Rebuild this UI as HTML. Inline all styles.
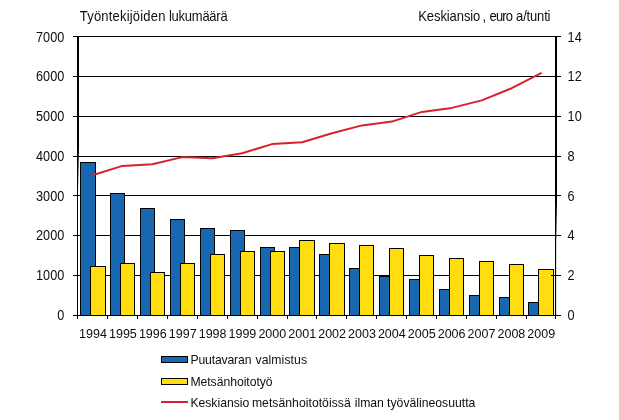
<!DOCTYPE html>
<html lang="fi"><head><meta charset="utf-8"><title>Työntekijöiden lukumäärä</title>
<style>html,body{margin:0;padding:0;background:#fff}svg{display:block}text{font-family:"Liberation Sans",Arial,sans-serif;font-size:13px;fill:#0e0e0e}</style></head><body>
<svg width="619" height="420" viewBox="0 0 619 420">
<defs><linearGradient id="fl" x1="0" y1="0" x2="0" y2="1"><stop offset="0" stop-color="#000"/><stop offset="0.72" stop-color="#000"/><stop offset="1" stop-color="#000" stop-opacity="0"/></linearGradient><linearGradient id="fr" x1="0" y1="0" x2="0" y2="1"><stop offset="0" stop-color="#000"/><stop offset="0.8" stop-color="#000"/><stop offset="1" stop-color="#000" stop-opacity="0.15"/></linearGradient></defs>
<rect width="619" height="420" fill="#fff"/>
<g shape-rendering="crispEdges">
<rect x="73" y="36" width="488" height="1" fill="#000"/>
<rect x="73" y="76" width="488" height="1" fill="#000"/>
<rect x="73" y="116" width="488" height="1" fill="#000"/>
<rect x="73" y="156" width="488" height="1" fill="#000"/>
<rect x="73" y="195" width="488" height="1" fill="#000"/>
<rect x="73" y="235" width="488" height="1" fill="#000"/>
<rect x="73" y="275" width="488" height="1" fill="#000"/>
<rect x="73" y="315" width="488" height="1" fill="#000"/>
<rect x="80.5" y="162.5" width="15" height="153" fill="#1768b1" stroke="#000" stroke-width="1"/>
<rect x="90.5" y="266.5" width="15" height="49" fill="#ffdd0f" stroke="#000" stroke-width="1"/>
<rect x="110.5" y="193.5" width="14" height="122" fill="#1768b1" stroke="#000" stroke-width="1"/>
<rect x="120.5" y="263.5" width="14" height="52" fill="#ffdd0f" stroke="#000" stroke-width="1"/>
<rect x="140.5" y="208.5" width="14" height="107" fill="#1768b1" stroke="#000" stroke-width="1"/>
<rect x="150.5" y="272.5" width="14" height="43" fill="#ffdd0f" stroke="#000" stroke-width="1"/>
<rect x="170.5" y="219.5" width="14" height="96" fill="#1768b1" stroke="#000" stroke-width="1"/>
<rect x="180.5" y="263.5" width="14" height="52" fill="#ffdd0f" stroke="#000" stroke-width="1"/>
<rect x="200.5" y="228.5" width="14" height="87" fill="#1768b1" stroke="#000" stroke-width="1"/>
<rect x="210.5" y="254.5" width="14" height="61" fill="#ffdd0f" stroke="#000" stroke-width="1"/>
<rect x="230.5" y="230.5" width="14" height="85" fill="#1768b1" stroke="#000" stroke-width="1"/>
<rect x="240.5" y="251.5" width="14" height="64" fill="#ffdd0f" stroke="#000" stroke-width="1"/>
<rect x="260.5" y="247.5" width="14" height="68" fill="#1768b1" stroke="#000" stroke-width="1"/>
<rect x="270.5" y="251.5" width="14" height="64" fill="#ffdd0f" stroke="#000" stroke-width="1"/>
<rect x="289.5" y="247.5" width="15" height="68" fill="#1768b1" stroke="#000" stroke-width="1"/>
<rect x="299.5" y="240.5" width="15" height="75" fill="#ffdd0f" stroke="#000" stroke-width="1"/>
<rect x="319.5" y="254.5" width="15" height="61" fill="#1768b1" stroke="#000" stroke-width="1"/>
<rect x="329.5" y="243.5" width="15" height="72" fill="#ffdd0f" stroke="#000" stroke-width="1"/>
<rect x="349.5" y="268.5" width="14" height="47" fill="#1768b1" stroke="#000" stroke-width="1"/>
<rect x="359.5" y="245.5" width="14" height="70" fill="#ffdd0f" stroke="#000" stroke-width="1"/>
<rect x="379.5" y="276.5" width="14" height="39" fill="#1768b1" stroke="#000" stroke-width="1"/>
<rect x="389.5" y="248.5" width="14" height="67" fill="#ffdd0f" stroke="#000" stroke-width="1"/>
<rect x="409.5" y="279.5" width="14" height="36" fill="#1768b1" stroke="#000" stroke-width="1"/>
<rect x="419.5" y="255.5" width="14" height="60" fill="#ffdd0f" stroke="#000" stroke-width="1"/>
<rect x="439.5" y="289.5" width="14" height="26" fill="#1768b1" stroke="#000" stroke-width="1"/>
<rect x="449.5" y="258.5" width="14" height="57" fill="#ffdd0f" stroke="#000" stroke-width="1"/>
<rect x="469.5" y="295.5" width="14" height="20" fill="#1768b1" stroke="#000" stroke-width="1"/>
<rect x="479.5" y="261.5" width="14" height="54" fill="#ffdd0f" stroke="#000" stroke-width="1"/>
<rect x="499.5" y="297.5" width="14" height="18" fill="#1768b1" stroke="#000" stroke-width="1"/>
<rect x="509.5" y="264.5" width="14" height="51" fill="#ffdd0f" stroke="#000" stroke-width="1"/>
<rect x="528.5" y="302.5" width="15" height="13" fill="#1768b1" stroke="#000" stroke-width="1"/>
<rect x="538.5" y="269.5" width="15" height="46" fill="#ffdd0f" stroke="#000" stroke-width="1"/>
<rect x="73" y="315" width="488" height="1" fill="#000"/>
<rect x="77" y="315" width="1" height="4" fill="#000"/>
<rect x="107" y="315" width="1" height="4" fill="#000"/>
<rect x="137" y="315" width="1" height="4" fill="#000"/>
<rect x="167" y="315" width="1" height="4" fill="#000"/>
<rect x="197" y="315" width="1" height="4" fill="#000"/>
<rect x="227" y="315" width="1" height="4" fill="#000"/>
<rect x="257" y="315" width="1" height="4" fill="#000"/>
<rect x="287" y="315" width="1" height="4" fill="#000"/>
<rect x="316" y="315" width="1" height="4" fill="#000"/>
<rect x="346" y="315" width="1" height="4" fill="#000"/>
<rect x="376" y="315" width="1" height="4" fill="#000"/>
<rect x="406" y="315" width="1" height="4" fill="#000"/>
<rect x="436" y="315" width="1" height="4" fill="#000"/>
<rect x="466" y="315" width="1" height="4" fill="#000"/>
<rect x="496" y="315" width="1" height="4" fill="#000"/>
<rect x="526" y="315" width="1" height="4" fill="#000"/>
<rect x="555" y="315" width="1" height="4" fill="#000"/>
<rect x="551" y="275" width="5" height="1" fill="#000"/>
<rect x="77" y="36" width="1" height="280" fill="#000"/>
<rect x="555" y="36" width="1" height="280" fill="#000"/>
<rect x="78" y="36" width="1" height="154" fill="url(#fl)"/>
<rect x="556" y="36" width="1" height="206" fill="url(#fr)"/>
<rect x="556" y="242" width="1" height="74" fill="#000" fill-opacity="0.15"/>
</g>
<polyline points="92.4,175.2 122.4,165.9 152.3,164.3 182.2,157.1 212.2,158.2 242.2,153.2 272.1,144.1 302.1,142.2 332.0,133.2 362.0,125.4 391.9,121.6 421.9,111.9 451.8,107.9 481.8,100.4 511.7,88.2 541.6,72.8" fill="none" stroke="#d8212a" stroke-width="2" stroke-linejoin="round"/>
<text transform="translate(0,21) scale(1,1.1)" y="0" style="font-size:13px"><tspan x="79.80" textLength="85.66" lengthAdjust="spacing">Työntekijöiden</tspan> <tspan x="169.00" textLength="58.66" lengthAdjust="spacing">lukumäärä</tspan></text>
<text transform="translate(0,21) scale(1,1.1)" y="0" style="font-size:13px"><tspan x="418.30" textLength="62.03" lengthAdjust="spacing">Keskiansio</tspan><tspan x="482.60">,</tspan> <tspan x="489.60" textLength="23.41" lengthAdjust="spacing">euro</tspan><tspan x="516.10" textLength="34.39" lengthAdjust="spacing">a/tunti</tspan></text>
<text transform="translate(0,364) scale(0.94,1.0)" y="0" style="font-size:13px"><tspan x="202.55" textLength="64.97" lengthAdjust="spacing">Puutavaran</tspan> <tspan x="271.81" textLength="54.80" lengthAdjust="spacing">valmistus</tspan></text>
<text transform="translate(0,386) scale(0.94,1.0)" y="0" style="font-size:13px"><tspan x="202.55" textLength="87.48" lengthAdjust="spacing">Metsänhoitotyö</tspan></text>
<text transform="translate(0,407) scale(0.94,1.0)" y="0" style="font-size:13px"><tspan x="202.55" textLength="62.63" lengthAdjust="spacing">Keskiansio</tspan> <tspan x="267.98" textLength="105.16" lengthAdjust="spacing">metsänhoitotöissä</tspan> <tspan x="377.34" textLength="31.06" lengthAdjust="spacing">ilman</tspan> <tspan x="411.81" textLength="93.91" lengthAdjust="spacing">työvälineosuutta</tspan></text>
<text transform="translate(64.3,41.7) scale(1,1.1)" text-anchor="end" style="font-size:12.7px">7000</text>
<text transform="translate(567.6,41.7) scale(1,1.1)" style="font-size:12.7px">14</text>
<text transform="translate(64.3,81.4) scale(1,1.1)" text-anchor="end" style="font-size:12.7px">6000</text>
<text transform="translate(567.6,81.4) scale(1,1.1)" style="font-size:12.7px">12</text>
<text transform="translate(64.3,121.1) scale(1,1.1)" text-anchor="end" style="font-size:12.7px">5000</text>
<text transform="translate(567.6,121.1) scale(1,1.1)" style="font-size:12.7px">10</text>
<text transform="translate(64.3,160.9) scale(1,1.1)" text-anchor="end" style="font-size:12.7px">4000</text>
<text transform="translate(567.6,160.9) scale(1,1.1)" style="font-size:12.7px">8</text>
<text transform="translate(64.3,200.6) scale(1,1.1)" text-anchor="end" style="font-size:12.7px">3000</text>
<text transform="translate(567.6,200.6) scale(1,1.1)" style="font-size:12.7px">6</text>
<text transform="translate(64.3,240.3) scale(1,1.1)" text-anchor="end" style="font-size:12.7px">2000</text>
<text transform="translate(567.6,240.3) scale(1,1.1)" style="font-size:12.7px">4</text>
<text transform="translate(64.3,280.0) scale(1,1.1)" text-anchor="end" style="font-size:12.7px">1000</text>
<text transform="translate(567.6,280.0) scale(1,1.1)" style="font-size:12.7px">2</text>
<text transform="translate(64.3,319.7) scale(1,1.1)" text-anchor="end" style="font-size:12.7px">0</text>
<text transform="translate(567.6,319.7) scale(1,1.1)" style="font-size:12.7px">0</text>
<text x="93.0" y="338" text-anchor="middle" style="font-size:12.5px">1994</text>
<text x="122.9" y="338" text-anchor="middle" style="font-size:12.5px">1995</text>
<text x="152.8" y="338" text-anchor="middle" style="font-size:12.5px">1996</text>
<text x="182.7" y="338" text-anchor="middle" style="font-size:12.5px">1997</text>
<text x="212.6" y="338" text-anchor="middle" style="font-size:12.5px">1998</text>
<text x="242.4" y="338" text-anchor="middle" style="font-size:12.5px">1999</text>
<text x="272.3" y="338" text-anchor="middle" style="font-size:12.5px">2000</text>
<text x="302.2" y="338" text-anchor="middle" style="font-size:12.5px">2001</text>
<text x="332.1" y="338" text-anchor="middle" style="font-size:12.5px">2002</text>
<text x="362.0" y="338" text-anchor="middle" style="font-size:12.5px">2003</text>
<text x="391.8" y="338" text-anchor="middle" style="font-size:12.5px">2004</text>
<text x="421.7" y="338" text-anchor="middle" style="font-size:12.5px">2005</text>
<text x="451.6" y="338" text-anchor="middle" style="font-size:12.5px">2006</text>
<text x="481.5" y="338" text-anchor="middle" style="font-size:12.5px">2007</text>
<text x="511.4" y="338" text-anchor="middle" style="font-size:12.5px">2008</text>
<text x="541.2" y="338" text-anchor="middle" style="font-size:12.5px">2009</text>
<g shape-rendering="crispEdges">
<rect x="161.5" y="356.5" width="26" height="6" fill="#1768b1" stroke="#000"/>
<rect x="161.5" y="378.5" width="26" height="6" fill="#ffdd0f" stroke="#000"/>
<rect x="161" y="401" width="27" height="2" fill="#d8212a"/>
</g>
</svg></body></html>
